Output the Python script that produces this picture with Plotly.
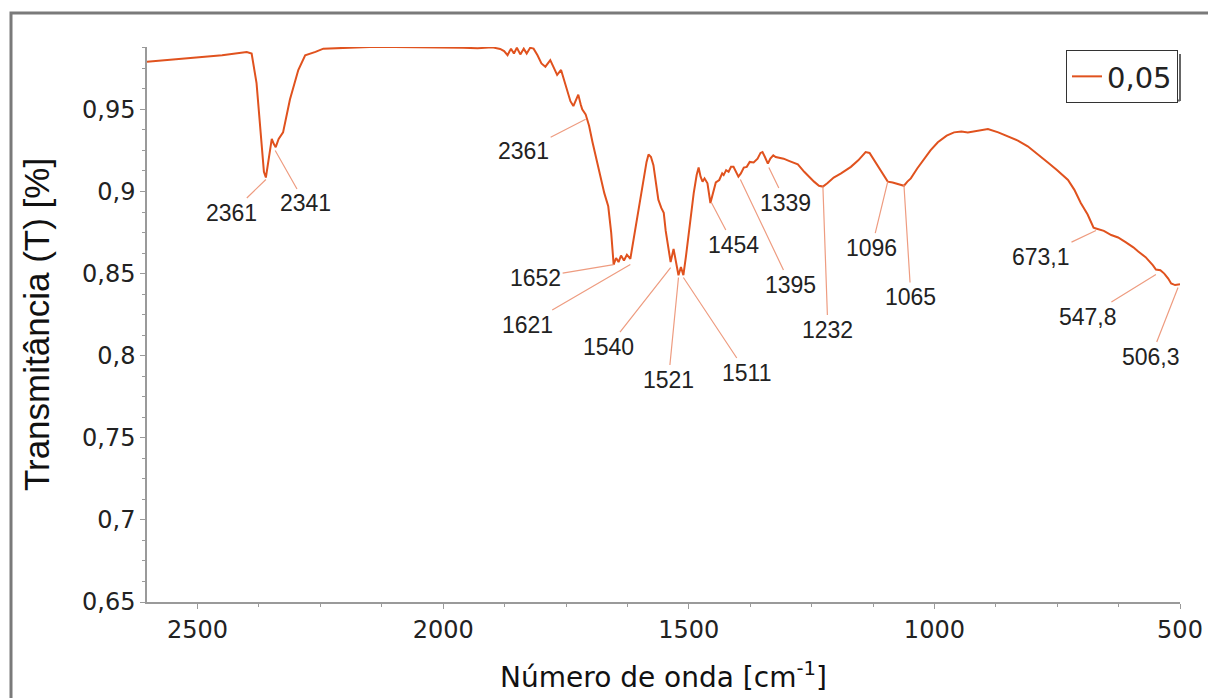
import numpy as np
import plotly.graph_objects as go

# ---------------- data ----------------
wavenumber = [2603, 2550, 2500, 2450, 2400, 2390, 2380, 2372, 2365, 2361, 2355, 2349, 2345, 2341, 2335,
              2326, 2312, 2295, 2281, 2260, 2244, 2200, 2150, 2100, 2050, 2000, 1960, 1930, 1900, 1884,
              1876, 1869, 1862, 1856, 1850, 1843, 1836, 1830, 1823, 1816, 1808, 1800, 1792, 1782, 1775,
              1768, 1760, 1752, 1747, 1741, 1735, 1730, 1725, 1720, 1717, 1710, 1703, 1696, 1688, 1680,
              1672, 1664, 1658, 1653, 1648, 1643, 1638, 1632, 1626, 1619, 1612, 1605, 1594, 1586, 1582,
              1577, 1572, 1566, 1562, 1556, 1551, 1547, 1543, 1537, 1531, 1526, 1521, 1516, 1511, 1506,
              1500, 1495, 1490, 1484, 1480, 1476, 1472, 1468, 1462, 1456, 1450, 1445, 1438, 1432, 1429,
              1424, 1419, 1414, 1409, 1404, 1399, 1394, 1388, 1382, 1376, 1368, 1360, 1354, 1350, 1345,
              1339, 1334, 1328, 1323, 1316, 1307, 1295, 1278, 1265, 1256, 1245, 1235, 1227, 1218, 1205,
              1190, 1170, 1155, 1140, 1132, 1120, 1110, 1100, 1095, 1085, 1079, 1070, 1062, 1055, 1048,
              1035, 1022, 1008, 993, 975, 960, 945, 932, 910, 891, 870, 850, 830, 810, 790,
              769, 750, 728, 715, 702, 688, 676, 671, 665, 655, 640, 626, 610, 595, 585,
              570, 555, 549, 540, 532, 524, 518, 510, 504, 500]
transmittance = [0.979, 0.9805, 0.9815, 0.983, 0.985, 0.984, 0.966, 0.935, 0.912, 0.9085, 0.92, 0.932, 0.929, 0.927, 0.932,
                 0.936, 0.956, 0.974, 0.983, 0.985, 0.987, 0.9875, 0.988, 0.988, 0.9878, 0.988, 0.9876, 0.9872, 0.9878, 0.9868,
                 0.9855, 0.983, 0.987, 0.984, 0.9875, 0.9835, 0.987, 0.984, 0.9875, 0.987, 0.983, 0.978, 0.976, 0.980, 0.975,
                 0.971, 0.974, 0.966, 0.960, 0.955, 0.952, 0.956, 0.959, 0.953, 0.950, 0.947, 0.940, 0.930, 0.919, 0.909,
                 0.899, 0.891, 0.875, 0.8555, 0.8595, 0.857, 0.861, 0.858, 0.8615, 0.859, 0.872, 0.885, 0.9055, 0.918, 0.9226,
                 0.921, 0.916, 0.905, 0.895, 0.890, 0.887, 0.876, 0.869, 0.857, 0.865, 0.857, 0.849, 0.854, 0.849, 0.860,
                 0.875, 0.887, 0.899, 0.910, 0.9146, 0.909, 0.906, 0.908, 0.905, 0.893, 0.899, 0.9055, 0.907, 0.911, 0.910,
                 0.913, 0.912, 0.915, 0.915, 0.912, 0.909, 0.911, 0.9146, 0.915, 0.918, 0.9177, 0.920, 0.9235, 0.924, 0.921,
                 0.917, 0.920, 0.922, 0.921, 0.9205, 0.920, 0.9185, 0.9165, 0.912, 0.909, 0.906, 0.9035, 0.903, 0.905, 0.9085,
                 0.911, 0.915, 0.919, 0.924, 0.9235, 0.918, 0.913, 0.908, 0.906, 0.9055, 0.905, 0.904, 0.9035, 0.906, 0.908,
                 0.914, 0.9195, 0.925, 0.930, 0.934, 0.936, 0.9365, 0.936, 0.937, 0.938, 0.936, 0.9335, 0.931, 0.9275, 0.923,
                 0.9177, 0.913, 0.907, 0.901, 0.893, 0.886, 0.878, 0.8775, 0.877, 0.876, 0.8735, 0.872, 0.869, 0.866, 0.8634,
                 0.860, 0.855, 0.8525, 0.852, 0.850, 0.847, 0.844, 0.843, 0.8435, 0.8435]

series_name = "0,05"

peak_labels = ["2361", "2341", "2361", "1652", "1621", "1540", "1521", "1511", "1454",
               "1395", "1339", "1232", "1096", "1065", "673,1", "547,8", "506,3"]
peak_x = [2361, 2342, 1710, 1653, 1619, 1537, 1521, 1511, 1454,
          1395, 1337, 1227, 1095, 1062, 671, 549, 504]
peak_y = [0.9073, 0.925, 0.944, 0.8555, 0.8555, 0.8537, 0.8476, 0.8476, 0.8933,
          0.9073, 0.9146, 0.903, 0.906, 0.904, 0.8762, 0.8494, 0.8415]
# label offsets in pixels (styling)
label_dx = [-34, 30, -62, -78, -103, -62, -10, 63, 22, 50, 17, 5, -16, 7, -55, -68, -27]
label_dy = [33, 53, 32, 13, 60, 79, 102, 95, 42, 105, 35, 143, 66, 112, 26, 42, 69]

x_tickvals = [2500, 2000, 1500, 1000, 500]
x_ticktext = ["2500", "2000", "1500", "1000", "500"]
y_tickvals = [0.65, 0.7, 0.75, 0.8, 0.85, 0.9, 0.95]
y_ticktext = ["0,65", "0,7", "0,75", "0,8", "0,85", "0,9", "0,95"]

x_title = "Número de onda [cm<sup>-1</sup>]"
y_title = "Transmitância (T) [%]"

# ---------------- figure ----------------
W, H = 1208, 698
ML, MR, MT, MB = 147, 28, 47, 96
PW, PH = W - ML - MR, H - MT - MB

line_color = "#E0521E"
axis_color = "#9a9a9a"

fig = go.Figure()
fig.add_trace(go.Scatter(x=wavenumber, y=transmittance, mode="lines", name=series_name,
                         line=dict(color=line_color, width=2)))

for t, px, py, dx, dy in zip(peak_labels, peak_x, peak_y, label_dx, label_dy):
    fig.add_annotation(x=px, y=py, text=t, showarrow=True, arrowhead=0, arrowwidth=1.2,
                       arrowcolor="#EE9C80", ax=dx, ay=dy, standoff=0,
                       font=dict(family="Liberation Sans, Arial", size=23, color="#222"))

def px2paper_x(p):
    return (p - ML) / PW

def px2paper_y(p):
    return 1 - (p - MT) / PH

# outer gray frame (screenshot border)
fig.add_shape(type="rect", xref="paper", yref="paper",
              x0=px2paper_x(11), x1=px2paper_x(1240), y0=px2paper_y(740), y1=px2paper_y(13),
              line=dict(color="#7a7a7a", width=3), fillcolor="rgba(0,0,0,0)", layer="below")
# legend drop shadow (right and bottom edges)
fig.add_shape(type="line", xref="paper", yref="paper",
              x0=px2paper_x(1180), x1=px2paper_x(1180), y0=px2paper_y(101), y1=px2paper_y(54),
              line=dict(color="#666", width=2), layer="above")
fig.add_shape(type="line", xref="paper", yref="paper",
              x0=px2paper_x(1069), x1=px2paper_x(1180), y0=px2paper_y(100.5), y1=px2paper_y(100.5),
              line=dict(color="#666", width=2), layer="above")

fig.update_layout(
    width=W, height=H,
    margin=dict(l=ML, r=MR, t=MT, b=MB, autoexpand=False),
    paper_bgcolor="white", plot_bgcolor="white",
    separators=",.",
    showlegend=True,
    legend=dict(x=px2paper_x(1178), xanchor="right", y=px2paper_y(50), yanchor="top",
                bordercolor="#333", borderwidth=1, bgcolor="white", itemwidth=30,
                font=dict(family="DejaVu Sans", size=29, color="#222")),
    xaxis=dict(range=[2603, 500], tickvals=x_tickvals, ticktext=x_ticktext, automargin=False,
               showgrid=False, zeroline=False, showline=True, linecolor=axis_color, linewidth=1.5,
               ticks="outside", ticklen=5, tickcolor=axis_color, tickwidth=1,
               minor=dict(dtick=125, ticks="outside", ticklen=3, tickcolor=axis_color),
               tickfont=dict(family="DejaVu Sans", size=24, color="#222"),
               title=dict(text=x_title, font=dict(family="DejaVu Sans", size=28, color="#111"), standoff=25)),
    yaxis=dict(range=[0.65, 0.988], tickvals=y_tickvals, ticktext=y_ticktext, automargin=False,
               showgrid=False, zeroline=False, showline=True, linecolor=axis_color, linewidth=1.5,
               ticks="outside", ticklen=5, tickcolor=axis_color, tickwidth=1,
               minor=dict(dtick=0.0125, tick0=0.65, ticks="outside", ticklen=3, tickcolor=axis_color),
               tickfont=dict(family="DejaVu Sans", size=24, color="#222"),
               title=dict(text=y_title, font=dict(family="Liberation Sans, Arial", size=35, color="#111"), standoff=22)),
)

fig.write_html("out.html", config={"displayModeBar": False},
               post_script="document.body.style.margin='0';")
